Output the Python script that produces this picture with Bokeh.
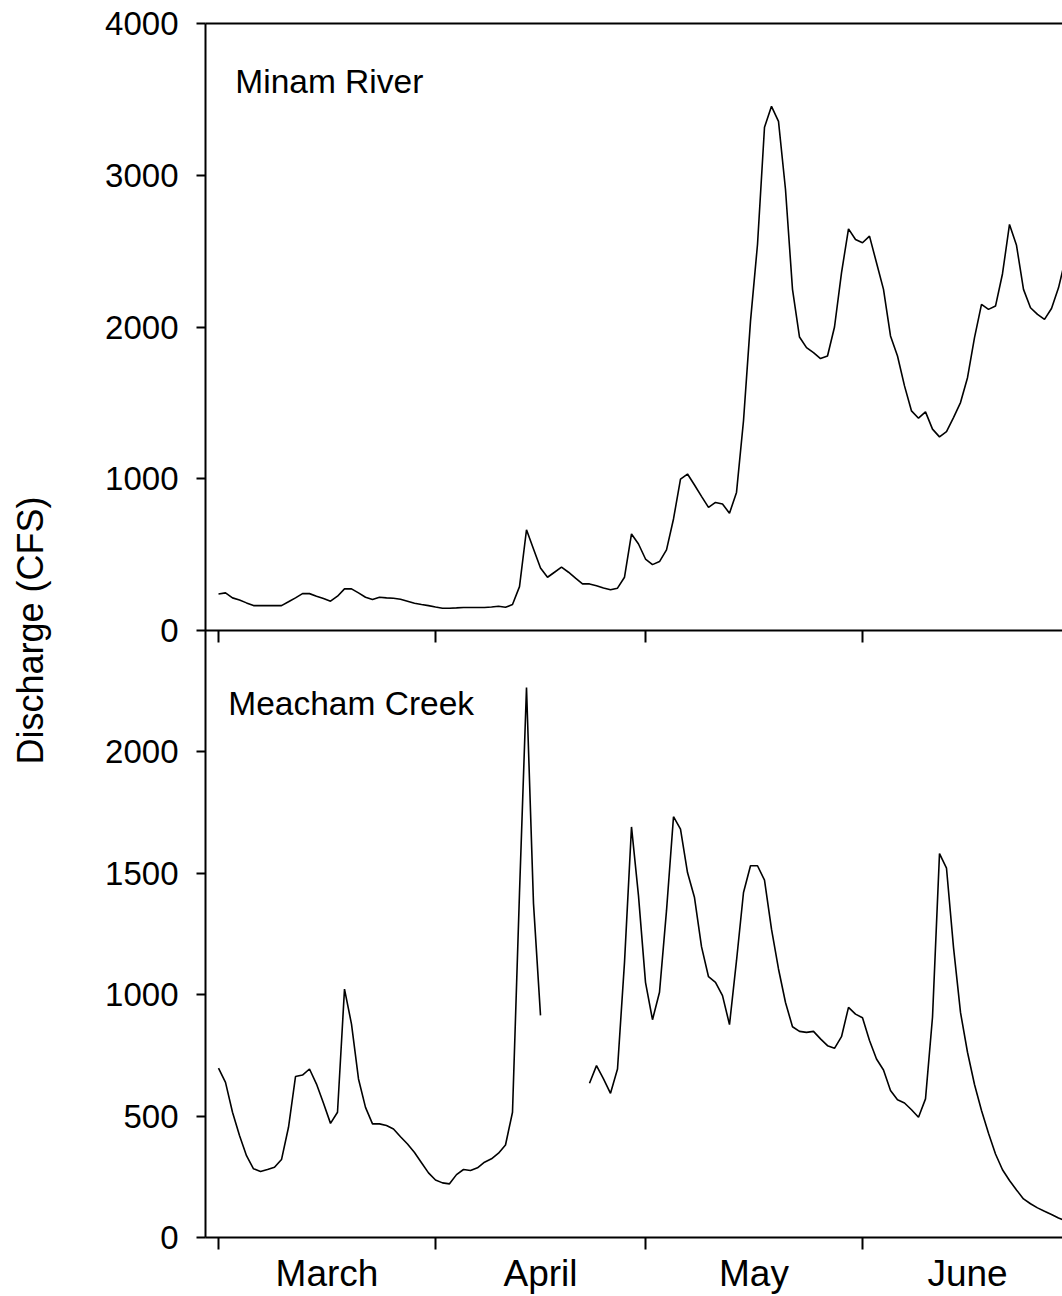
import math
from bokeh.plotting import figure
from bokeh.models import Range1d, LinearAxis, FixedTicker, Label, Span
from bokeh.embed import file_html
from bokeh.resources import INLINE

nan = float("nan")

# ---- data: daily discharge (CFS), day 0 = 1 March ----
days = list(range(122))

minam = [241, 248, 215, 201, 182, 164, 164, 164, 164, 164,
         189, 215, 243, 243, 226, 211, 193, 226, 274, 274,
         248, 219, 204, 219, 215, 213, 206, 193, 180, 171,
         164, 155, 147, 147, 149, 152, 152, 152, 152, 155,
         160, 153, 171, 289, 664, 537, 412, 351, 384, 417,
         384, 345, 307, 307, 295, 280, 268, 279, 351, 636,
         570, 471, 434, 454, 531, 735, 998, 1031, 959, 884,
         811, 844, 833, 773, 910, 1382, 2039, 2544, 3316, 3454,
         3355, 2906, 2248, 1934, 1864, 1831, 1792, 1809, 2000, 2357,
         2647, 2577, 2555, 2599, 2423, 2248, 1941, 1809, 1612, 1447,
         1399, 1441, 1327, 1276, 1311, 1403, 1502, 1666, 1930, 2149,
         2116, 2138, 2351, 2676, 2538, 2248, 2127, 2083, 2050, 2122,
         2258, 2450]

meacham = [698, 639, 516, 420, 337, 283, 272, 280, 289, 321,
           454, 663, 669, 694, 632, 553, 470, 516, 1023, 879,
           653, 536, 468, 468, 461, 447, 415, 385, 350, 308,
           266, 237, 225, 221, 259, 280, 276, 287, 310, 324,
           347, 381, 516, 1420, 2265, 1375, 915, nan, nan, nan,
           nan, nan, nan, 635, 708, 653, 594, 694, 1133, 1691,
           1407, 1051, 897, 1010, 1346, 1733, 1682, 1503, 1400, 1198,
           1074, 1051, 996, 877, 1140, 1421, 1531, 1531, 1472, 1270,
           1106, 968, 868, 849, 845, 849, 818, 790, 779, 827,
           948, 920, 905, 811, 735, 690, 605, 567, 554, 526,
           495, 571, 907, 1581, 1521, 1195, 927, 763, 630, 523,
           429, 344, 279, 235, 196, 159, 139, 122, 108, 95,
           80, 70]

month_names = ["March", "April", "May", "June"]
month_starts = [0, 31, 61, 92]
month_lengths = [31, 30, 31, 30]

top_ticks = [0, 1000, 2000, 3000, 4000]
bottom_ticks = [0, 500, 1000, 1500, 2000]

FONT = "Liberation Sans"

# ---- ranges: bottom panel uses the default range, top panel an extra range ----
y_bottom = Range1d(0, 5000)
y_top = Range1d(-4000, 4000)

p = figure(width=1062, height=1296,
           x_range=Range1d(-13 / 7, 844 / 7), y_range=y_bottom,
           output_backend="svg", toolbar_location=None,
           x_axis_location=None, y_axis_location=None,
           min_border_left=205, min_border_right=0,
           min_border_top=23, min_border_bottom=59)
p.extra_y_ranges = {"top": y_top}
p.grid.visible = False
p.outline_line_color = None

# data lines
p.line(days, minam, y_range_name="top", line_color="black", line_width=1.6)
p.line(days, meacham, line_color="black", line_width=1.6)


def top_to_base(v):
    return y_bottom.start + (v - y_top.start) * (y_bottom.end - y_bottom.start) / (y_top.end - y_top.start)


# left axis: one axis carrying both panels' ticks
tick_pos = []
overrides = {}
for b in bottom_ticks:
    tick_pos.append(b)
    overrides[b] = str(b)
for v in top_ticks:
    pos = int(round(top_to_base(v)))
    tick_pos.append(pos)
    overrides[pos] = str(v)

left = LinearAxis(ticker=FixedTicker(ticks=tick_pos, minor_ticks=[]),
                  major_label_overrides=overrides,
                  axis_label="Discharge (CFS)",
                  axis_label_text_font=FONT, axis_label_text_font_size="36px",
                  axis_label_text_font_style="normal", axis_label_text_color="black",
                  axis_label_standoff=51,
                  major_label_text_font=FONT, major_label_text_font_size="33px",
                  major_label_text_color="black", major_label_standoff=18,
                  major_tick_out=9, major_tick_in=0, minor_tick_out=0, minor_tick_in=0,
                  axis_line_width=2, major_tick_line_width=2)
p.add_layout(left, "left")

# bottom axis: month starts as ticks, month names centred on each month
mids = [s + l / 2 for s, l in zip(month_starts, month_lengths)]
bottom = LinearAxis(ticker=FixedTicker(ticks=mids, minor_ticks=month_starts),
                    major_label_overrides={m: n for m, n in zip(mids, month_names)},
                    major_label_text_font=FONT, major_label_text_font_size="37px",
                    major_label_text_color="black", major_label_standoff=3,
                    major_tick_out=0, major_tick_in=0,
                    minor_tick_out=12, minor_tick_in=0, minor_tick_line_width=2,
                    axis_line_width=2)
p.add_layout(bottom, "below")

# top border of the upper panel
top_border = LinearAxis(ticker=FixedTicker(ticks=[], minor_ticks=[]),
                        major_tick_out=0, minor_tick_out=0,
                        major_label_text_font_size="0px", axis_line_width=2)
p.add_layout(top_border, "above")

# separator between panels (x axis of the upper panel) with month ticks
p.add_layout(Span(location=0, dimension="width", y_range_name="top",
                  line_color="black", line_width=2))
p.ray(x=month_starts, y=[0] * len(month_starts), y_range_name="top",
      length=12, length_units="screen", angle=-math.pi / 2,
      line_color="black", line_width=2)

# panel titles
p.add_layout(Label(x=2.4, y=3620, y_range_name="top", text="Minam River",
                   text_font=FONT, text_font_size="33.5px", text_color="black",
                   text_baseline="alphabetic"))
p.add_layout(Label(x=1.4, y=2199, text="Meacham Creek",
                   text_font=FONT, text_font_size="33.5px", text_color="black",
                   text_baseline="alphabetic"))

open("out.html", "w").write(file_html(p, INLINE))
